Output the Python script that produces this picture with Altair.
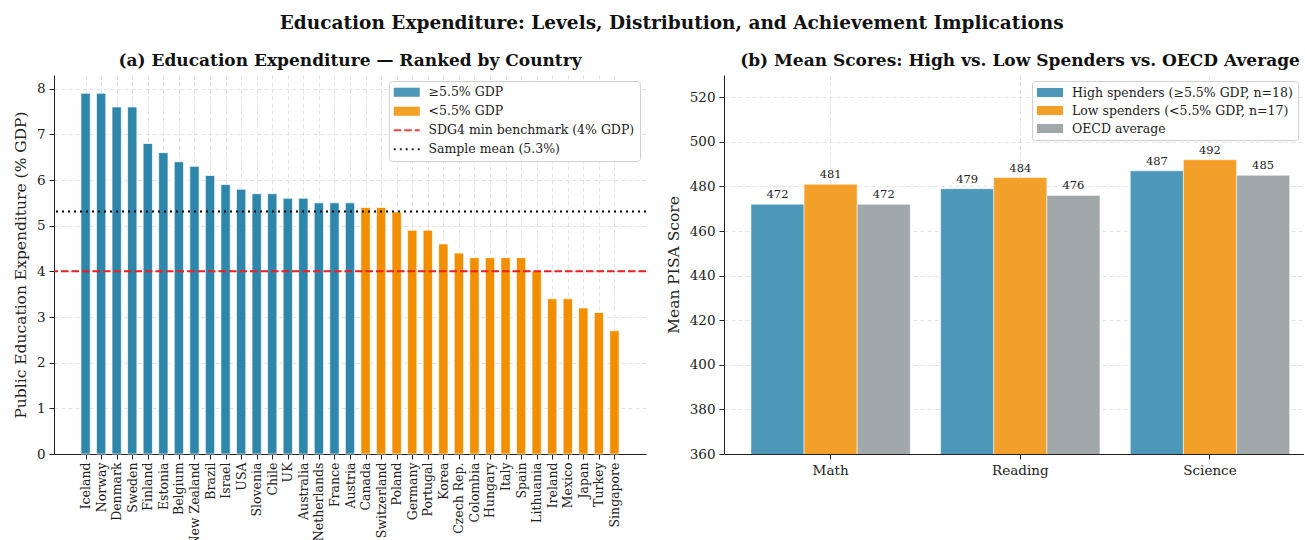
import altair as alt
import pandas as pd
import numpy as np
import json

FONT = "DejaVu Serif"

# ---------------- data ----------------
countries = ["Iceland", "Norway", "Denmark", "Sweden", "Finland", "Estonia", "Belgium",
             "New Zealand", "Brazil", "Israel", "USA", "Slovenia", "Chile", "UK",
             "Australia", "Netherlands", "France", "Austria", "Canada", "Switzerland",
             "Poland", "Germany", "Portugal", "Korea", "Czech Rep.", "Colombia", "Hungary",
             "Italy", "Spain", "Lithuania", "Ireland", "Mexico", "Japan", "Turkey", "Singapore"]
expenditure = [7.9, 7.9, 7.6, 7.6, 6.8, 6.6, 6.4, 6.3, 6.1, 5.9, 5.8, 5.7, 5.7, 5.6, 5.6,
               5.5, 5.5, 5.5, 5.4, 5.4, 5.3, 4.9, 4.9, 4.6, 4.4, 4.3, 4.3, 4.3, 4.3, 4.0,
               3.4, 3.4, 3.2, 3.1, 2.7]
threshold = 5.5
sdg_benchmark = 4.0

subjects = ["Math", "Reading", "Science"]
high_scores = [472, 479, 487]
low_scores = [481, 484, 492]
oecd_scores = [472, 476, 485]

# ---------------- derived tables ----------------
mean_exp = float(np.mean(expenditure))
n_high = sum(1 for v in expenditure if v >= threshold)
n_low = len(expenditure) - n_high

left_labels = ["≥5.5% GDP", "<5.5% GDP", "SDG4 min benchmark (4% GDP)",
               f"Sample mean ({mean_exp:.1f}%)"]
left_colors = ["#2E86AB", "#F18F01", "#F01E1E", "#000000"]

df_left = pd.DataFrame({
    "idx": list(range(len(countries))),
    "country": countries,
    "expenditure": expenditure,
    "legend": [left_labels[0] if v >= threshold else left_labels[1] for v in expenditure],
})
df_lines = pd.DataFrame({"legend": left_labels[2:], "value": [sdg_benchmark, mean_exp]})

series_names = [f"High spenders (≥5.5% GDP, n={n_high})",
                f"Low spenders (<5.5% GDP, n={n_low})",
                "OECD average"]
series_colors = ["#4D98B8", "#F2A02A", "#A1A8A9"]
rows = []
for name, vals in zip(series_names, [high_scores, low_scores, oecd_scores]):
    for s, v in zip(subjects, vals):
        rows.append({"subject": s, "series": name, "score": v})
df_right = pd.DataFrame(rows)

# ---------------- styles ----------------
left_scale = alt.Scale(domain=left_labels, range=left_colors)

RECT = "M-1,-0.7H3V0.7H-1Z"
LINE = "M-1,0H3"

left_legend = alt.Legend(
    title=None, orient="top-right", offset=6,
    labelFont=FONT, labelFontSize=12.5, labelColor="#222", labelLimit=400,
    symbolSize=169, labelOffset=22, rowPadding=6,
    symbolType={"expr": f"datum.index < 2 ? '{RECT}' : '{LINE}'"},
    symbolStrokeWidth={"expr": "datum.index < 2 ? 0 : 2"},
    symbolDash={"expr": "datum.index == 2 ? [7.5, 3] : (datum.index == 3 ? [2, 4] : [1, 0])"},
    symbolStrokeColor={"expr": "datum.index == 2 ? '#F01E1E' : (datum.index == 3 ? '#000000' : 'transparent')"},
    symbolOpacity=0.85,
    fillColor="white", strokeColor="#d0d0d0", cornerRadius=3, padding=5,
)

y_axis_common = dict(labelFont=FONT, labelFontSize=13.5, titleFont=FONT, titleFontSize=15.5,
                     titleFontWeight="normal", titleColor="#222", labelColor="#222",
                     tickSize=5, labelPadding=4, titlePadding=8, grid=True)

names_js = json.dumps(countries, ensure_ascii=False)

# ---------------- left panel ----------------
n = len(countries)
bars = alt.Chart(df_left).transform_calculate(
    x0="datum.idx - 0.3", x1="datum.idx + 0.3"
).mark_bar(stroke="white", strokeWidth=0.7).encode(
    x=alt.X("x0:Q", scale=alt.Scale(domain=[-2.03, n - 1 + 2.03], nice=False, zero=False),
            axis=alt.Axis(title=None, values=list(range(n)),
                          labelExpr=f"{names_js}[datum.value]",
                          labelAngle=-90, labelFont=FONT, labelFontSize=12.5,
                          labelColor="#222", tickSize=5, labelPadding=3, grid=True,
                          labelOverlap=False, labelBound=False, labelFlush=False)),
    x2="x1:Q",
    y=alt.Y("expenditure:Q", scale=alt.Scale(domain=[0, 8.3], nice=False),
            axis=alt.Axis(values=list(range(0, 9)),
                          title="Public Education Expenditure (% GDP)", **y_axis_common)),
    y2=alt.datum(0),
    color=alt.Color("legend:N", scale=left_scale, legend=left_legend),
)

sdg_rule = alt.Chart(df_lines).transform_filter(
    alt.datum.legend == left_labels[2]
).mark_rule(strokeDash=[7.5, 3], strokeWidth=2).encode(
    y="value:Q",
    color=alt.Color("legend:N", scale=left_scale, legend=left_legend),
)
mean_rule = alt.Chart(df_lines).transform_filter(
    alt.datum.legend == left_labels[3]
).mark_rule(strokeDash=[2, 4], strokeWidth=2).encode(
    y="value:Q",
    color=alt.Color("legend:N", scale=left_scale, legend=left_legend),
)

left = alt.layer(bars, sdg_rule, mean_rule).properties(
    width=592, height=379,
    title=alt.TitleParams("(a) Education Expenditure — Ranked by Country",
                          font=FONT, fontSize=17, fontWeight="bold", color="#111", offset=5),
)

# ---------------- right panel ----------------
right_legend = alt.Legend(
    title=None, orient="top-right", offset=6,
    labelFont=FONT, labelFontSize=12.5, labelColor="#222", labelLimit=400,
    symbolSize=169, labelOffset=22, rowPadding=5,
    symbolType=RECT, symbolStrokeWidth=0,
    fillColor="white", strokeColor="#d0d0d0", cornerRadius=3, padding=5,
)

base_r = alt.Chart(df_right).encode(
    x=alt.X("subject:N", sort=subjects,
            scale=alt.Scale(paddingInner=0.16, paddingOuter=0.109, align=0.652),
            axis=alt.Axis(title=None, labelAngle=0, labelFont=FONT, labelFontSize=13.5,
                          labelColor="#222", tickSize=5, labelPadding=4, grid=True)),
    xOffset=alt.XOffset("series:N", sort=series_names,
                        scale=alt.Scale(paddingInner=0, paddingOuter=0)),
    y=alt.Y("score:Q", scale=alt.Scale(domain=[360, 530], nice=False, zero=False),
            axis=alt.Axis(values=list(range(360, 521, 20)), title="Mean PISA Score",
                          **y_axis_common)),
)
bars_r = base_r.mark_bar(clip=True, stroke="white", strokeWidth=0.5).encode(
    color=alt.Color("series:N", sort=series_names,
                    scale=alt.Scale(domain=series_names, range=series_colors),
                    legend=right_legend),
)
text_r = base_r.mark_text(baseline="bottom", dy=-4, font=FONT, fontSize=11.5,
                          color="#222").encode(text="score:Q")

right = alt.layer(bars_r, text_r).properties(
    width=580, height=379,
    title=alt.TitleParams("(b) Mean Scores: High vs. Low Spenders vs. OECD Average",
                          font=FONT, fontSize=17, fontWeight="bold", color="#111",
                          offset=5, dx=6),
)

chart = alt.hconcat(left, right, spacing=19).resolve_scale(
    color="independent", x="independent", y="independent"
).resolve_legend(color="independent").properties(
    title=alt.TitleParams(
        "Education Expenditure: Levels, Distribution, and Achievement Implications",
        font=FONT, fontSize=18.5, fontWeight="bold", color="#111", anchor="middle",
        dx=13, offset=20),
    padding={"left": 13, "top": 13, "right": 0, "bottom": -3},
).configure_view(stroke=None).configure_axis(
    domainColor="#222", tickColor="#222", gridColor="#dcdcdc", gridDash=[4, 3],
    gridWidth=0.8,
)

chart.save("out.html", embed_options={"renderer": "svg", "actions": False})
